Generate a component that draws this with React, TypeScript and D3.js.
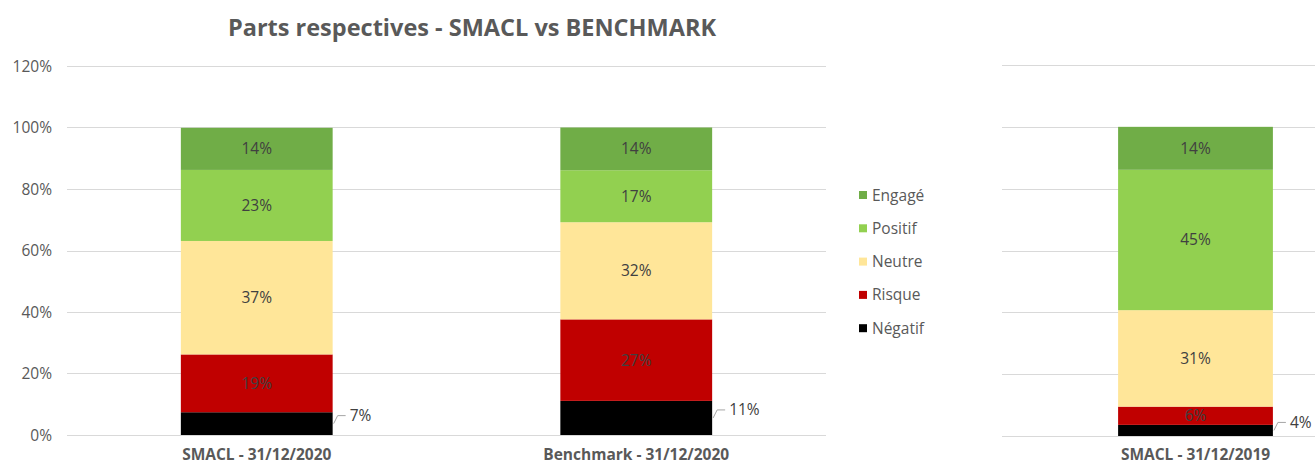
import React, { useEffect, useRef } from 'react';
import * as d3 from 'd3';

const series = ['Négatif', 'Risque', 'Neutre', 'Positif', 'Engagé'];
const colors = ['#000000', '#C00000', '#FFE699', '#92D050', '#70AD47'];

const leftCategories = ['SMACL - 31/12/2020', 'Benchmark - 31/12/2020'];
const smacl2020 = [0.074, 0.188, 0.369, 0.231, 0.137];
const benchmark2020 = [0.111, 0.265, 0.316, 0.169, 0.139];

const rightCategories = ['SMACL - 31/12/2019'];
const smacl2019 = [0.036, 0.059, 0.312, 0.454, 0.139];

const yTicks = [0, 0.2, 0.4, 0.6, 0.8, 1.0, 1.2];

const title = 'Parts respectives - SMACL vs BENCHMARK';
const font = "'Open Sans', 'Noto Sans', sans-serif";
const fs = '15.5px';

export default function App() {
  const svgRef = useRef<SVGSVGElement>(null);

  const width = 1315;
  const height = 466;

  const renderPanel = (svg, categories, data, xRange, yRange, showAxis) => {
    const g = svg.append('g');

    const x = d3.scaleBand().domain(categories).range(xRange).padding(0);
    const y = d3.scaleLinear().domain([0, 1.2]).range(yRange);

    // gridlines
    g.selectAll('line.grid')
      .data(yTicks)
      .enter()
      .append('line')
      .attr('x1', xRange[0])
      .attr('x2', Math.min(xRange[1], width))
      .attr('y1', d => Math.round(y(d)) + 0.5)
      .attr('y2', d => Math.round(y(d)) + 0.5)
      .attr('stroke', '#d9d9d9')
      .attr('stroke-width', 1);

    if (showAxis) {
      g.selectAll('text.ytick')
        .data(yTicks)
        .enter()
        .append('text')
        .attr('x', 52)
        .attr('y', d => y(d) + 5.5)
        .attr('text-anchor', 'end')
        .attr('fill', '#595959')
        .style('font-family', font)
        .style('font-size', fs)
        .text(d => d3.format('.0%')(d));
    }

    const barW = x.bandwidth() * 0.4;

    categories.forEach((cat, ci) => {
      const values = data[ci];
      const stacked = d3.stack().keys(series.map((s, i) => String(i)))([
        Object.fromEntries(values.map((v, i) => [String(i), v]))
      ]);
      const bx = x(cat) + (x.bandwidth() - barW) / 2;
      const right = bx + barW;
      const bg = g.append('g');

      stacked.forEach((layer, li) => {
        const [y0, y1] = layer[0];
        bg.append('rect')
          .attr('x', bx)
          .attr('y', y(y1))
          .attr('width', barW)
          .attr('height', y(y0) - y(y1))
          .attr('fill', colors[li]);

        const label = d3.format('.0%')(values[li]);
        const mid = (y(y0) + y(y1)) / 2;
        if (li === 0) {
          // outside label with leader line
          const ly = mid - 8;
          const path = d3.path();
          path.moveTo(right + 1, mid);
          path.lineTo(right + 5, ly);
          path.lineTo(right + 13, ly);
          bg.append('path')
            .attr('d', path.toString())
            .attr('fill', 'none')
            .attr('stroke', '#a6a6a6')
            .attr('stroke-width', 1);
          bg.append('text')
            .attr('x', right + 17)
            .attr('y', ly + 5.5)
            .attr('fill', '#404040')
            .style('font-family', font)
            .style('font-size', fs)
            .text(label);
        } else {
          bg.append('text')
            .attr('x', bx + barW / 2)
            .attr('y', mid + 5.5)
            .attr('text-anchor', 'middle')
            .attr('fill', '#404040')
            .style('font-family', font)
            .style('font-size', fs)
            .text(label);
        }
      });

      g.append('text')
        .attr('x', bx + barW / 2)
        .attr('y', 460)
        .attr('text-anchor', 'middle')
        .attr('fill', '#595959')
        .style('font-family', font)
        .style('font-size', fs)
        .style('font-weight', 'bold')
        .text(cat);
    });
  };

  useEffect(() => {
    const svg = d3.select(svgRef.current);
    svg.selectAll('*').remove();

    svg.append('text')
      .attr('x', 472)
      .attr('y', 36)
      .attr('text-anchor', 'middle')
      .attr('fill', '#595959')
      .style('font-family', font)
      .style('font-size', '23.5px')
      .style('font-weight', 'bold')
      .text(title);

    renderPanel(svg, leftCategories, [smacl2020, benchmark2020], [67, 826], [435, 66], true);
    renderPanel(svg, rightCategories, [smacl2019], [1002, 1389], [436, 65], false);

    // legend (top to bottom: Engagé ... Négatif)
    const legendItems = series.map((s, i) => ({ s, c: colors[i] })).reverse();
    const lg = svg.append('g');
    lg.selectAll('rect')
      .data(legendItems)
      .enter()
      .append('rect')
      .attr('x', 859)
      .attr('y', (d, i) => 191 + i * 33.3)
      .attr('width', 8)
      .attr('height', 8)
      .attr('fill', d => d.c);
    lg.selectAll('text')
      .data(legendItems)
      .enter()
      .append('text')
      .attr('x', 872)
      .attr('y', (d, i) => 200.5 + i * 33.3)
      .attr('fill', '#595959')
      .style('font-family', font)
      .style('font-size', fs)
      .text(d => d.s);
  }, []);

  return (
    <svg
      ref={svgRef}
      width={width}
      height={height}
      style={{ position: 'absolute', left: 0, top: 0, background: '#fff' }}
    />
  );
}
